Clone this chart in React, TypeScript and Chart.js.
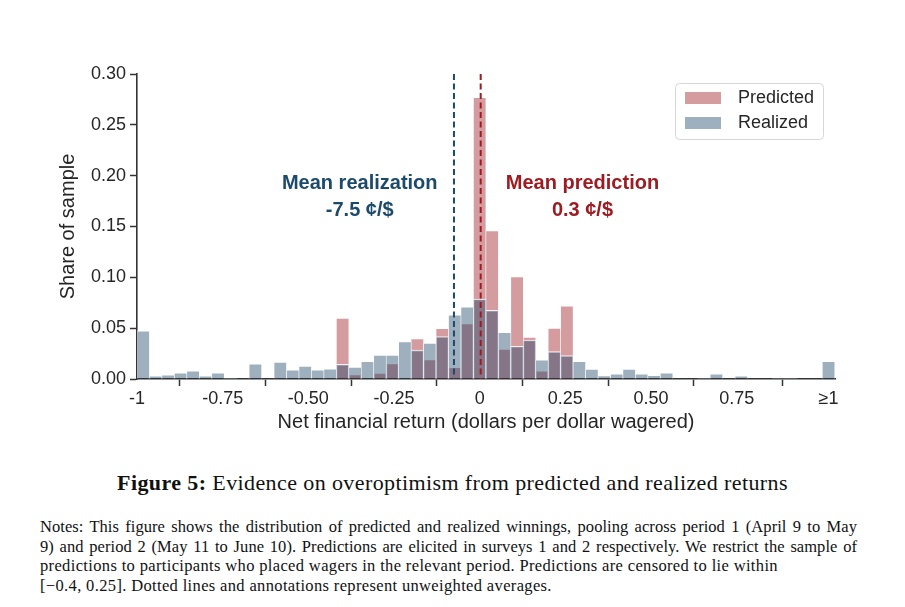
import React, { useEffect, useRef } from "react";
import { Chart, registerables } from "chart.js";

Chart.register(...registerables);

// Histogram bin centres (56 bins, width 2/55, last bin is the ">=1" bucket)
const BIN_CENTERS = [
  -0.9818, -0.9455, -0.9091, -0.8727, -0.8364, -0.8, -0.7636, -0.7273, -0.6909, -0.6545,
  -0.6182, -0.5818, -0.5455, -0.5091, -0.4727, -0.4364, -0.4, -0.3636, -0.3273, -0.2909,
  -0.2545, -0.2182, -0.1818, -0.1455, -0.1091, -0.0727, -0.0364, 0.0, 0.0364, 0.0727,
  0.1091, 0.1455, 0.1818, 0.2182, 0.2545, 0.2909, 0.3273, 0.3636, 0.4, 0.4364,
  0.4727, 0.5091, 0.5455, 0.5818, 0.6182, 0.6545, 0.6909, 0.7273, 0.7636, 0.8,
  0.8364, 0.8727, 0.9091, 0.9455, 0.9818, 1.0182,
];

const PREDICTED = [
  0, 0, 0, 0, 0, 0, 0, 0, 0, 0,
  0, 0, 0, 0, 0, 0, 0.06, 0.0043, 0, 0.0058,
  0.0151, 0, 0.0397, 0.019, 0.0498, 0.0115, 0.0545, 0.277, 0.146, 0.0295,
  0.1007, 0.0413, 0.008, 0.05, 0.072, 0, 0, 0, 0, 0,
  0, 0, 0, 0, 0, 0, 0, 0, 0, 0,
  0, 0, 0, 0, 0, 0,
];

const REALIZED = [
  0.0475, 0.003, 0.004, 0.006, 0.008, 0.003, 0.006, 0.001, 0, 0.015,
  0, 0.0167, 0.009, 0.0128, 0.009, 0.01, 0.0144, 0.0118, 0.0174, 0.0236,
  0.0236, 0.0367, 0.0284, 0.0354, 0.0418, 0.0632, 0.0711, 0.0787, 0.0675, 0.0458,
  0.0322, 0.0384, 0.0188, 0.027, 0.023, 0.0174, 0.0098, 0.0033, 0.0052, 0.0098,
  0.0052, 0.0036, 0.006, 0, 0, 0.001, 0.005, 0, 0.003, 0,
  0, 0.001, 0.001, 0, 0, 0.0174,
];

const SERIES_NAMES = ["Predicted", "Realized"];
const X_TICK_VALUES = [-1, -0.75, -0.5, -0.25, 0, 0.25, 0.5, 0.75, 1.0182];
const X_TICK_LABELS = ["-1", "-0.75", "-0.50", "-0.25", "0", "0.25", "0.50", "0.75", "\u22651"];
const Y_TICK_VALUES = [0, 0.05, 0.1, 0.15, 0.2, 0.25, 0.3];

const MEAN_REALIZATION = -0.075;
const MEAN_PREDICTION = 0.003;
const REAL_ANNOT = ["Mean realization", "-7.5 \u00a2/$"];
const PRED_ANNOT = ["Mean prediction", "0.3 \u00a2/$"];

const PRED_FILL = "rgba(155,20,28,0.42)";
const REAL_FILL = "rgba(25,65,100,0.42)";
const PRED_DARK = "#9e1b22";
const REAL_DARK = "#1b4a6b";
const TEXT = "#262626";
const AXIS = "#333333";
const SANS = "'Liberation Sans', Arial, sans-serif";

const overlayPlugin = {
  id: "overlay",
  afterDatasetsDraw(chart: any) {
    const { ctx, scales } = chart;
    const x = scales.x;
    const y = scales.y;
    ctx.save();
    // mean lines
    const lines: [number, string][] = [
      [MEAN_REALIZATION, REAL_DARK],
      [MEAN_PREDICTION, PRED_DARK],
    ];
    lines.forEach(([v, c]) => {
      const px = x.getPixelForValue(v);
      ctx.beginPath();
      ctx.setLineDash([6, 3.5]);
      ctx.lineWidth = 2;
      ctx.strokeStyle = c;
      ctx.moveTo(px, y.getPixelForValue(0.3));
      ctx.lineTo(px, y.getPixelForValue(0));
      ctx.stroke();
    });
    ctx.setLineDash([]);

    // annotations
    ctx.font = `bold 20px ${SANS}`;
    ctx.textAlign = "center";
    ctx.textBaseline = "middle";
    ctx.fillStyle = REAL_DARK;
    const rx = x.getPixelForValue(-0.35);
    ctx.fillText(REAL_ANNOT[0], rx, y.getPixelForValue(0.192));
    ctx.fillText(REAL_ANNOT[1], rx, y.getPixelForValue(0.166));
    ctx.fillStyle = PRED_DARK;
    const px2 = x.getPixelForValue(0.3);
    ctx.fillText(PRED_ANNOT[0], px2, y.getPixelForValue(0.192));
    ctx.fillText(PRED_ANNOT[1], px2, y.getPixelForValue(0.166));

    // legend
    const lx = 675.5, ly = 83.5, lw = 148, lh = 56, r = 4;
    ctx.beginPath();
    ctx.moveTo(lx + r, ly);
    ctx.lineTo(lx + lw - r, ly);
    ctx.quadraticCurveTo(lx + lw, ly, lx + lw, ly + r);
    ctx.lineTo(lx + lw, ly + lh - r);
    ctx.quadraticCurveTo(lx + lw, ly + lh, lx + lw - r, ly + lh);
    ctx.lineTo(lx + r, ly + lh);
    ctx.quadraticCurveTo(lx, ly + lh, lx, ly + lh - r);
    ctx.lineTo(lx, ly + r);
    ctx.quadraticCurveTo(lx, ly, lx + r, ly);
    ctx.closePath();
    ctx.fillStyle = "rgba(255,255,255,0.8)";
    ctx.fill();
    ctx.strokeStyle = "#d6d6d6";
    ctx.lineWidth = 1;
    ctx.stroke();

    const fills = [PRED_FILL, REAL_FILL];
    const rowsY = [98, 123];
    ctx.font = `18px ${SANS}`;
    ctx.textAlign = "left";
    ctx.textBaseline = "middle";
    SERIES_NAMES.forEach((name, i) => {
      ctx.fillStyle = fills[i];
      ctx.fillRect(685, rowsY[i] - 6, 36, 12);
      ctx.fillStyle = TEXT;
      ctx.fillText(name, 738, rowsY[i]);
    });
    ctx.restore();
  },
};

function HistChart() {
  const ref = useRef<HTMLCanvasElement | null>(null);
  useEffect(() => {
    if (!ref.current) return;
    const mk = (vals: number[]) => BIN_CENTERS.map((c, i) => ({ x: c, y: vals[i] }));
    const chart = new Chart(ref.current, {
      type: "bar",
      data: {
        datasets: [
          {
            label: SERIES_NAMES[0],
            data: mk(PREDICTED) as any,
            backgroundColor: PRED_FILL,
            borderColor: "rgba(255,255,255,0.85)",
            borderWidth: { top: 1, left: 0.6, right: 0.6, bottom: 0 } as any,
            borderSkipped: false as any,
            order: 1,
            grouped: false,
            barPercentage: 1,
            categoryPercentage: 1,
          },
          {
            label: SERIES_NAMES[1],
            data: mk(REALIZED) as any,
            backgroundColor: REAL_FILL,
            borderColor: "rgba(255,255,255,0.85)",
            borderWidth: { top: 1, left: 0.6, right: 0.6, bottom: 0 } as any,
            borderSkipped: false as any,
            order: 0,
            grouped: false,
            barPercentage: 1,
            categoryPercentage: 1,
          },
        ],
      },
      options: {
        responsive: false,
        animation: false,
        devicePixelRatio: 1,
        layout: { padding: { left: 0, top: 74, right: 70, bottom: 0 } },
        plugins: {
          legend: { display: false },
          tooltip: { enabled: false },
          title: { display: false },
        },
        scales: {
          x: {
            type: "linear",
            min: -1,
            max: 1.037,
            offset: false,
            afterBuildTicks: (s: any) => {
              s.ticks = X_TICK_VALUES.map((v) => ({ value: v }));
            },
            afterFit: (s: any) => {
              s.height = 71;
            },
            ticks: {
              autoSkip: false,
              maxRotation: 0,
              padding: 2,
              color: TEXT,
              font: { family: SANS, size: 18 },
              callback: (v: any) => {
                const i = X_TICK_VALUES.findIndex((t) => Math.abs(t - Number(v)) < 1e-6);
                return i >= 0 ? X_TICK_LABELS[i] : "";
              },
            },
            grid: {
              display: true,
              drawOnChartArea: false,
              drawTicks: true,
              tickLength: 7,
              tickWidth: 1.5,
              tickColor: AXIS,
              color: AXIS,
            },
            border: { display: true, color: AXIS, width: 1.6 },
            title: {
              display: true,
              text: "Net financial return (dollars per dollar wagered)",
              color: TEXT,
              font: { family: SANS, size: 20 },
              padding: { top: 0, bottom: 16 },
            },
          },
          y: {
            type: "linear",
            min: 0,
            max: 0.3,
            afterBuildTicks: (s: any) => {
              s.ticks = Y_TICK_VALUES.map((v) => ({ value: v }));
            },
            afterFit: (s: any) => {
              s.width = 137;
            },
            ticks: {
              padding: 4,
              color: TEXT,
              font: { family: SANS, size: 18 },
              callback: (v: any) => Number(v).toFixed(2),
            },
            grid: {
              display: true,
              drawOnChartArea: false,
              drawTicks: true,
              tickLength: 7,
              tickWidth: 1.5,
              tickColor: AXIS,
              color: AXIS,
            },
            border: { display: true, color: AXIS, width: 1.6 },
            title: {
              display: true,
              text: "Share of sample",
              color: TEXT,
              font: { family: SANS, size: 20 },
              padding: { top: 56, bottom: 0 },
            },
          },
        },
      } as any,
      plugins: [overlayPlugin],
    });
    return () => chart.destroy();
  }, []);
  return (
    <canvas
      ref={ref}
      width={905}
      height={450}
      style={{ position: "absolute", left: 0, top: 0, width: 905, height: 450 }}
    />
  );
}

const CAPTION_BOLD = "Figure 5:";
const CAPTION_TEXT = " Evidence on overoptimism from predicted and realized returns";
const NOTES_LINES = [
  "Notes: This figure shows the distribution of predicted and realized winnings, pooling across period 1 (April 9 to May",
  "9) and period 2 (May 11 to June 10). Predictions are elicited in surveys 1 and 2 respectively. We restrict the sample of",
  "predictions to participants who placed wagers in the relevant period. Predictions are censored to lie within",
  "[\u22120.4, 0.25]. Dotted lines and annotations represent unweighted averages.",
];

export default function App() {
  const serif = "'Liberation Serif', 'DejaVu Serif', serif";
  return (
    <div
      style={{
        position: "absolute",
        left: 0,
        top: 0,
        width: 905,
        height: 607,
        background: "#ffffff",
        overflow: "hidden",
      }}
    >
      <HistChart />
      <div
        style={{
          position: "absolute",
          left: 0,
          top: 469,
          width: 905,
          textAlign: "center",
          fontFamily: serif,
          fontSize: 22,
          letterSpacing: "0.4px",
          color: "#111",
          lineHeight: "27px",
        }}
      >
        <b>{CAPTION_BOLD}</b>
        {CAPTION_TEXT}
      </div>
      <div
        style={{
          position: "absolute",
          left: 40,
          top: 517,
          width: 817,
          fontFamily: serif,
          fontSize: 16.5,
          color: "#111",
          lineHeight: "19.5px",
        }}
      >
        {NOTES_LINES.map((l, i) => (
          <div
            key={i}
            style={{
              textAlign: i < 2 ? "justify" : "left",
              textAlignLast: i < 2 ? "justify" : "left",
              whiteSpace: "nowrap",
              letterSpacing: i < 2 ? "0.05px" : "0.35px",
            } as any}
          >
            {l}
          </div>
        ))}
      </div>
    </div>
  );
}
